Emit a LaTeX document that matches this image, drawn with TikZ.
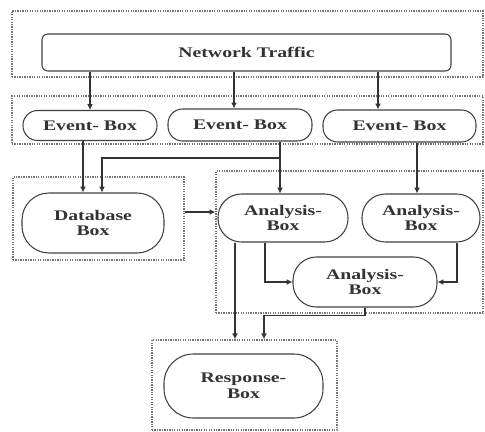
\documentclass[tikz,border=0pt]{standalone}
\usepackage{fontspec}
\setmainfont[FakeStretch=1.35]{Liberation Serif}
\usetikzlibrary{arrows.meta}

\begin{document}
\begin{tikzpicture}[x=0.03cm, y=-0.03cm,
    dotbox/.style={draw=black!55, densely dotted, line width=1.1pt},
    plainbox/.style={draw=black!75, line width=0.9pt, rounded corners=5pt,
        font=\bfseries\fontsize{12.5}{13.5}\selectfont, text=black!80,
        align=center, inner sep=0pt},
    pill/.style={plainbox, rounded corners=12.5pt},
    bigpill/.style={plainbox, rounded corners=20pt},
    arr/.style={draw=black!80, line width=1.1pt, -{Latex[length=5pt,width=5pt]}}]
    \def\px{0.03cm}
    \useasboundingbox (0,0) rectangle (485,432);

    % Dotted group frames
    \node[dotbox, minimum width=471*\px, minimum height=66*\px] (netgrp) at (247.5,44) {};
    \node[dotbox, minimum width=471*\px, minimum height=48*\px] (evgrp) at (247.5,120) {};
    \node[dotbox, minimum width=171*\px, minimum height=83*\px] (dbgrp) at (98.5,218.5) {};
    \node[dotbox, minimum width=267*\px, minimum height=142*\px] (angrp) at (349.5,242) {};
    \node[dotbox, minimum width=185*\px, minimum height=90*\px] (resgrp) at (244.5,385) {};

    % Boxes
    \node[plainbox, minimum width=409*\px, minimum height=37*\px] (traffic) at (246.5,52.5) {Network Traffic};
    \node[pill, minimum width=134*\px, minimum height=30*\px] (ev1) at (90,125.5) {Event- Box};
    \node[pill, minimum width=144*\px, minimum height=32*\px] (ev2) at (240,125) {Event- Box};
    \node[pill, minimum width=153*\px, minimum height=32*\px] (ev3) at (399.5,126) {Event- Box};
    \node[bigpill, rounded corners=23pt, minimum width=142*\px, minimum height=60*\px] (db) at (93,223) {Database\\Box};
    \node[bigpill, minimum width=130*\px, minimum height=48*\px] (an1) at (283,218) {Analysis-\\Box};
    \node[bigpill, minimum width=118*\px, minimum height=48*\px] (an2) at (421,218) {Analysis-\\Box};
    \node[bigpill, minimum width=144*\px, minimum height=50*\px] (an3) at (365,282) {Analysis-\\Box};
    \node[bigpill, rounded corners=25pt, minimum width=159*\px, minimum height=64*\px] (resp) at (243.5,386) {Response-\\Box};

    % Columns and rows the arrows run along
    \coordinate (k2) at (234,0);
    \coordinate (k3) at (378,0);
    \coordinate (k4) at (83,0);
    \coordinate (k5) at (102,0);
    \coordinate (k6) at (280,0);
    \coordinate (k7) at (417,0);
    \coordinate (k8) at (265,0);
    \coordinate (k9) at (457,0);
    \coordinate (k10) at (235,0);
    \coordinate (k11) at (264,0);
    \coordinate (fork) at (280,158);
    \coordinate (link) at (0,212);

    % Traffic into the event boxes
    \draw[arr] (traffic.south -| ev1.north) -- (ev1.north);
    \draw[arr] (traffic.south -| k2) -- (ev2.north -| k2);
    \draw[arr] (traffic.south -| k3) -- (ev3.north -| k3);

    % Events into database and analysis
    \draw[arr] (ev1.south -| k4) -- (db.north -| k4);
    \draw[arr] (ev2.south -| k6) -- (an1.north -| k6);
    \draw[arr] (fork) -| (db.north -| k5);
    \draw[arr] (ev3.south -| k7) -- (an2.north -| k7);
    \draw[arr] (dbgrp.east |- link) -- (angrp.west |- link);

    % Analysis chain
    \draw[arr] (an1.south -| k8) |- (an3.west);
    \draw[arr] (an2.south -| k9) |- (an3.east);

    % Into the response
    \draw[arr] (an1.south -| k10) -- (resgrp.north -| k10);
    \draw[arr] (an3.south) -- ++(0,8) -| (resgrp.north -| k11);

\end{tikzpicture}
\end{document}
